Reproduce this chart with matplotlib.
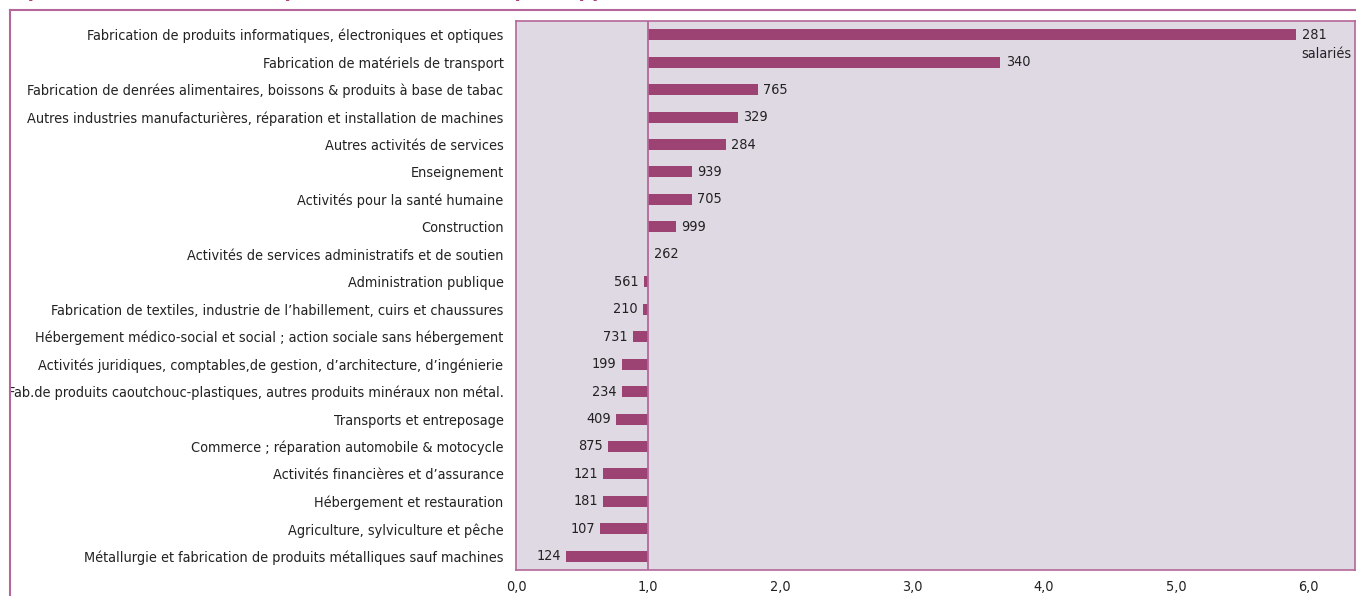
import matplotlib.pyplot as plt
import matplotlib.lines as mlines
from matplotlib import font_manager

# police étroite si disponible, sinon Liberation Sans plus petite
etroites = [f for f in font_manager.fontManager.ttflist
            if f.stretch in ('condensed', 'semi-condensed') or 'Narrow' in f.name or 'Condensed' in f.name]
if etroites:
    police = etroites[0]
    plt.rcParams['font.family'] = [police.name, 'DejaVu Sans']
    plt.rcParams['font.stretch'] = police.stretch
    taille = 10.4
else:
    plt.rcParams['font.family'] = ['Liberation Sans', 'DejaVu Sans']
    taille = 10

# Secteurs (de haut en bas)
secteurs = [
    "Fabrication de produits informatiques, électroniques et optiques",
    "Fabrication de matériels de transport",
    "Fabrication de denrées alimentaires, boissons & produits à base de tabac",
    "Autres industries manufacturières, réparation et installation de machines",
    "Autres activités de services",
    "Enseignement",
    "Activités pour la santé humaine",
    "Construction",
    "Activités de services administratifs et de soutien",
    "Administration publique",
    "Fabrication de textiles, industrie de l’habillement, cuirs et chaussures",
    "Hébergement médico-social et social ; action sociale sans hébergement",
    "Activités juridiques, comptables,de gestion, d’architecture, d’ingénierie",
    "Fab.de produits caoutchouc-plastiques, autres produits minéraux non métal.",
    "Transports et entreposage",
    "Commerce ; réparation automobile & motocycle",
    "Activités financières et d’assurance",
    "Hébergement et restauration",
    "Agriculture, sylviculture et pêche",
    "Métallurgie et fabrication de produits métalliques sauf machines",
]

# Indice de spécificité
indices = [5.91, 3.67, 1.83, 1.68, 1.59, 1.33, 1.33, 1.21, 1.00, 0.97,
           0.96, 0.89, 0.80, 0.80, 0.76, 0.70, 0.66, 0.66, 0.64, 0.38]

# Nombre de salariés
salaries = ["281", "340", "765", "329", "284", "939", "705", "999", "262", "561",
            "210", "731", "199", "234", "409", "875", "121", "181", "107", "124"]

ticks = [0, 1, 2, 3, 4, 5, 6]
tick_labels = ["0,0", "1,0", "2,0", "3,0", "4,0", "5,0", "6,0"]

bar_color = '#9C4374'
fond = '#DFD9E4'
rose = '#B4679A'
texte = '#222222'

fig = plt.figure(figsize=(13.56, 5.96), dpi=100)
ax = fig.add_axes([516 / 1356, 1 - 570 / 596, 839 / 1356, 549 / 596])
ax.set_facecolor(fond)

y = list(range(len(secteurs)))
largeurs = [v - 1 for v in indices]
ax.barh(y, largeurs, left=1, height=0.4, color=bar_color)
ax.axvline(1, color=rose, lw=1.3)

for i, (v, n) in enumerate(zip(indices, salaries)):
    if v >= 1:
        ax.annotate(n, (v, i), xytext=(4, 0), textcoords='offset points',
                    ha='left', va='center', fontsize=taille, color=texte)
    else:
        ax.annotate(n, (v, i), xytext=(-4, 0), textcoords='offset points',
                    ha='right', va='center', fontsize=taille, color=texte)
ax.annotate("salariés", (indices[0], 0), xytext=(4, -14), textcoords='offset points',
            ha='left', va='center', fontsize=taille, color=texte)

ax.set_xlim(0, 839 / 132)
ax.set_ylim(len(secteurs) - 0.5, -0.5)
ax.set_yticks(y)
ax.set_yticklabels(secteurs, fontsize=taille, color=texte)
ax.set_xticks(ticks)
ax.set_xticklabels(tick_labels, fontsize=taille, color=texte)
ax.tick_params(axis='both', length=0)
ax.tick_params(axis='y', pad=9)
ax.tick_params(axis='x', pad=7)
for s in ax.spines.values():
    s.set_color(rose)
    s.set_linewidth(1.2)

# cadre extérieur
fig.add_artist(mlines.Line2D([10 / 1356, 1], [1 - 9.5 / 596] * 2, color=rose, lw=1.5))
fig.add_artist(mlines.Line2D([10 / 1356] * 2, [0, 1 - 9.5 / 596], color=rose, lw=1.5))

# titre (coupé en haut de l'image)
fig.text(14 / 1356, 1 + 3 / 596,
         "Spécificités des secteurs productifs de la zone par rapport au niveau national",
         fontsize=15, fontweight='bold', color='#B0457F', ha='left', va='baseline')

fig.savefig('out.png', dpi=100)
